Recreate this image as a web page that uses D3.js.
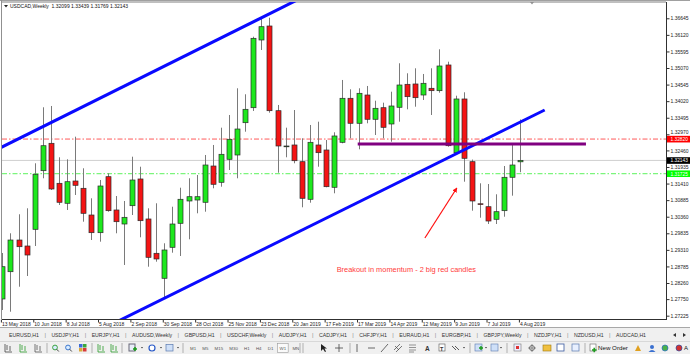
<!DOCTYPE html>
<html><head><meta charset="utf-8">
<script src="https://cdn.jsdelivr.net/npm/d3@7"></script>
<style>
html,body{margin:0;padding:0;background:#fff;overflow:hidden}
svg{display:block;font-family:"Liberation Sans",Arial,sans-serif}
</style></head><body>
<svg id="c" width="690" height="354"></svg>
<script>
// ---------------- DATA ----------------
const symbol = "USDCAD,Weekly";
const lastQuote = ["1.32099", "1.33439", "1.31769", "1.32143"];

// weekly candles, 13 May 2018 .. 4 Aug 2019 (65 bars)
const open = [1.27754,1.28618,1.29622,1.29432,1.29961,1.31818,1.32685,1.31418,1.30785,1.31491,
  1.31260,1.30414,1.29854,1.31628,1.30573,1.30129,1.30709,1.31555,1.30288,1.29201,
  1.28409,1.29391,1.30151,1.30858,1.30889,1.30817,1.31966,1.31450,1.32179,1.32315,
  1.33338,1.33813,1.35958,1.36401,1.33718,1.32578,1.32632,1.32103,1.30912,1.32632,
  1.32473,1.31292,1.32717,1.34111,1.33319,1.34215,1.33446,1.33813,1.33297,1.33826,
  1.34554,1.34564,1.34215,1.34428,1.34352,1.35166,1.32388,1.34089,1.32103,1.30770,
  1.30677,1.30278,1.30551,1.31609,1.32099];
const high = [1.29211,1.29835,1.30437,1.30627,1.32052,1.33826,1.33867,1.32242,1.32179,1.32895,
  1.31894,1.30943,1.31523,1.31735,1.31016,1.30858,1.32261,1.31944,1.30627,1.30785,
  1.29518,1.30677,1.31279,1.31577,1.31681,1.32315,1.32632,1.33180,1.33582,1.34428,
  1.34238,1.36062,1.36645,1.36664,1.33899,1.33180,1.33740,1.32844,1.33265,1.33370,
  1.32790,1.33034,1.34691,1.34396,1.34428,1.34501,1.34035,1.33972,1.34320,1.35220,
  1.34903,1.35061,1.34881,1.35061,1.35663,1.35270,1.34193,1.34301,1.32170,1.31418,
  1.31396,1.31070,1.31966,1.32632,1.33439];
const low = [1.27405,1.27351,1.28143,1.28482,1.29432,1.31577,1.31206,1.30731,1.30573,1.31048,
  1.30202,1.29622,1.29569,1.30519,1.29835,1.28831,1.30414,1.29708,1.28777,1.28935,
  1.27776,1.29220,1.29116,1.29645,1.30468,1.30519,1.31260,1.31311,1.31840,1.31577,
  1.33053,1.33709,1.35641,1.33655,1.31754,1.32242,1.32052,1.30658,1.30804,1.31944,
  1.31292,1.31102,1.32685,1.32844,1.32495,1.33319,1.32948,1.32844,1.32736,1.33370,
  1.33762,1.33845,1.34057,1.33582,1.34288,1.32578,1.32315,1.31469,1.30551,1.30329,
  1.30129,1.30129,1.30360,1.31026,1.31769];
const close = [1.28777,1.29622,1.29410,1.29147,1.31704,1.32609,1.31238,1.30817,1.31469,1.31355,
  1.30468,1.29854,1.31333,1.30551,1.30202,1.30341,1.31523,1.30234,1.29074,1.29021,
  1.29306,1.30129,1.30912,1.30994,1.30994,1.31998,1.31387,1.32337,1.32812,1.33138,
  1.33762,1.36011,1.36379,1.33718,1.32600,1.32600,1.32134,1.30943,1.32717,1.32388,
  1.31311,1.32917,1.34111,1.33319,1.34269,1.33446,1.33794,1.33192,1.33867,1.34532,
  1.34162,1.34130,1.34586,1.34352,1.35134,1.32609,1.34089,1.32210,1.30858,1.30755,
  1.30224,1.30519,1.31609,1.31998,1.32143];

const xTickIndex  = [0, 4, 8, 12, 16, 20, 24, 28, 32, 36, 40, 44, 48, 52, 56, 60, 64];
const xTickLabels = ["13 May 2018","10 Jun 2018","8 Jul 2018","5 Aug 2018","2 Sep 2018","30 Sep 2018",
  "28 Oct 2018","25 Nov 2018","23 Dec 2018","20 Jan 2019","17 Feb 2019","17 Mar 2019","14 Apr 2019",
  "12 May 2019","9 Jun 2019","7 Jul 2019","4 Aug 2019"];
const yTicks = [1.36645,1.36120,1.35595,1.35070,1.34545,1.34020,1.33495,1.32970,1.32460,1.31935,
  1.31410,1.30885,1.30360,1.29835,1.29310,1.28785,1.28260,1.27750,1.27225];

// drawn objects (bar index, price)
const upperChannel = [{i: 0, p: 1.32574}, {i: 35, p: 1.37044}];
const lowerChannel = [{i: 20, p: 1.27776}, {i: 67, p: 1.33740}];
const purpleLevel  = [{i: 43.9, p: 1.32663}, {i: 72.1, p: 1.32663}];
const arrowPts     = [{i: 52.2, p: 1.29686}, {i: 56.15, p: 1.31270}];
const redLevel = 1.32820, greenLevel = 1.31725, bidLevel = 1.32143;
const note = {i: 41.3, p: 1.28618, text: "Breakout in momentum - 2 big red candles"};

const tabs = ["EURUSD,H1","USDJPY,H1","EURJPY,H1","AUDUSD,Weekly","GBPUSD,H1","USDCHF,Weekly",
  "AUDJPY,H1","CADJPY,H1","CHFJPY,H1","EURAUD,H1","EURGBP,H1","GBPJPY,Weekly","NZDJPY,H1","NZDUSD,H1","AUDCAD,H1"];
const periods = ["M1","M5","M15","M30","H1","H4","D1","W1","MN"];
const activePeriod = "W1";

// ---------------- CHART ----------------
const W = 690, H = 354;
const plot = {l: 2, r: 666, t: 2, b: 319};
const svg = d3.select("#c");
const defs = svg.append("defs");
defs.append("clipPath").attr("id", "clip").append("rect")
  .attr("x", plot.l).attr("y", plot.t).attr("width", plot.r - plot.l).attr("height", plot.b - plot.t);
defs.append("marker").attr("id", "ah").attr("viewBox", "0 0 10 10").attr("refX", 9).attr("refY", 5)
  .attr("markerWidth", 4).attr("markerHeight", 4).attr("orient", "auto")
  .append("path").attr("d", "M0,0L10,5L0,10z").attr("fill", "#ff1010");

svg.append("rect").attr("width", W).attr("height", H).attr("fill", "#fff");

const x = d3.scaleLinear().domain([0, 64]).range([2.4, 520.4]);
const y = d3.scaleLinear().domain([1.27120, 1.37161]).range([plot.b, plot.t]);

const data = open.map((o, i) => ({i, o, h: high[i], l: low[i], c: close[i]}));

// frame
svg.append("line").attr("x1", 0).attr("x2", W).attr("y1", 0.5).attr("y2", 0.5).attr("stroke", "#a0a0a0");
svg.append("line").attr("x1", plot.l).attr("x2", plot.r).attr("y1", 2).attr("y2", 2).attr("stroke", "#808080");
svg.append("line").attr("x1", 1.5).attr("x2", 1.5).attr("y1", 0).attr("y2", plot.b).attr("stroke", "#909090");

const g = svg.append("g").attr("clip-path", "url(#clip)");

// horizontal levels
g.append("line").attr("x1", plot.l).attr("x2", plot.r).attr("y1", y(bidLevel)).attr("y2", y(bidLevel))
  .attr("stroke", "#cfcfcf").attr("stroke-width", 1);
g.append("line").attr("x1", plot.l).attr("x2", plot.r).attr("y1", y(redLevel)).attr("y2", y(redLevel))
  .attr("stroke", "#ff5a5a").attr("stroke-width", 1).attr("stroke-dasharray", "5,2,1.5,2");
g.append("line").attr("x1", plot.l).attr("x2", plot.r).attr("y1", y(greenLevel)).attr("y2", y(greenLevel))
  .attr("stroke", "#7cf57c").attr("stroke-width", 1.2).attr("stroke-dasharray", "5,2,1.5,2");

// candles
const cg = g.append("g");
cg.selectAll("line.wick").data(data).join("line").attr("class", "wick")
  .attr("x1", d => Math.round(x(d.i)) + 0.5).attr("x2", d => Math.round(x(d.i)) + 0.5)
  .attr("y1", d => y(d.h)).attr("y2", d => y(d.l))
  .attr("stroke", "#7a7a7a").attr("stroke-width", 1);
cg.selectAll("rect.body").data(data).join("rect").attr("class", "body")
  .attr("x", d => Math.round(x(d.i)) - 2)
  .attr("width", 5)
  .attr("y", d => y(Math.max(d.o, d.c)))
  .attr("height", d => Math.max(0.8, Math.abs(y(d.o) - y(d.c))))
  .attr("fill", d => d.c >= d.o ? "#1ee81e" : "#f41414")
  .attr("stroke", "#2a2a2a").attr("stroke-width", 0.7);

// trend lines
function extend(a, b, i0, i1) {
  const s = (b.p - a.p) / (b.i - a.i);
  return [{i: i0, p: a.p + s * (i0 - a.i)}, {i: i1, p: a.p + s * (i1 - a.i)}];
}
const ln = d3.line().x(d => x(d.i)).y(d => y(d.p));
g.append("path").attr("d", ln(extend(upperChannel[0], upperChannel[1], -3, 42)))
  .attr("stroke", "#0a0aff").attr("stroke-width", 3).attr("fill", "none");
g.append("path").attr("d", ln(extend(lowerChannel[0], lowerChannel[1], 8, 67)))
  .attr("stroke", "#0a0aff").attr("stroke-width", 3).attr("fill", "none");
g.append("path").attr("d", ln(purpleLevel))
  .attr("stroke", "#800080").attr("stroke-width", 2.8).attr("fill", "none");
g.append("path").attr("d", ln(arrowPts))
  .attr("stroke", "#ff1010").attr("stroke-width", 1.2).attr("fill", "none").attr("marker-end", "url(#ah)");

g.append("text").attr("x", x(note.i)).attr("y", y(note.p))
  .attr("font-size", 7.4).attr("fill", "#ff3a3a").text(note.text);

// axes lines
svg.append("line").attr("x1", plot.r + 0.5).attr("x2", plot.r + 0.5).attr("y1", 2).attr("y2", plot.b + 1)
  .attr("stroke", "#303030");
svg.append("line").attr("x1", plot.l).attr("x2", plot.r + 1).attr("y1", plot.b + 0.5).attr("y2", plot.b + 0.5)
  .attr("stroke", "#303030");

// right price axis
const ya = svg.append("g").attr("transform", `translate(${plot.r + 0.5},0)`)
  .call(d3.axisRight(y).tickValues(yTicks).tickSize(3).tickPadding(1).tickFormat(d3.format(".5f")));
ya.select(".domain").remove();
ya.selectAll("line").attr("stroke", "#303030");
ya.selectAll("text").attr("font-size", 5).attr("fill", "#222").attr("font-family", "Liberation Sans, Arial, sans-serif");
// the label hidden behind the red tag in the reference sits slightly higher
ya.selectAll(".tick").filter(d => d === 1.32970).select("text").attr("dy", "-0.1em");

// price labels
const tags = [
  {p: redLevel, bg: "#ff0000", fg: "#fff"},
  {p: bidLevel, bg: "#000000", fg: "#fff"},
  {p: greenLevel, bg: "#00ff00", fg: "#fff"}
];
const tg = svg.append("g").selectAll("g").data(tags).join("g")
  .attr("transform", d => `translate(${plot.r + 1},${y(d.p)})`);
tg.append("rect").attr("x", 0).attr("y", -3.2).attr("width", 23).attr("height", 6.6).attr("fill", d => d.bg);
tg.append("text").attr("x", 3.5).attr("y", 0.2).attr("dy", "0.35em").attr("font-size", 4.8)
  .attr("fill", d => d.fg).text(d => d3.format(".5f")(d.p));

// bottom time axis
const xa = svg.append("g").attr("transform", `translate(0,${plot.b + 0.5})`)
  .call(d3.axisBottom(x).tickValues(xTickIndex).tickSize(3).tickPadding(0)
    .tickFormat((d, k) => xTickLabels[k]));
xa.select(".domain").remove();
xa.selectAll("line").attr("stroke", "#303030").attr("transform", "translate(-1.5,0)");
xa.selectAll("text").attr("text-anchor", "start").attr("x", -1).attr("font-size", 5)
  .attr("fill", "#222").attr("font-family", "Liberation Sans, Arial, sans-serif");

// title
const tt = svg.append("g");
tt.append("path").attr("d", "M4,5 L8,5 L6,7.5 Z").attr("fill", "#222");
tt.append("text").attr("x", 10).attr("y", 8).attr("font-size", 5).attr("fill", "#111")
  .text(symbol + "  " + lastQuote.join(" ")).attr("xml:space", "preserve");
// shift marker
svg.append("path").attr("d", "M530,2 L534,2 L532,4.5 Z").attr("fill", "#909090");

// ---------------- TAB BAR ----------------
svg.append("rect").attr("x", 0).attr("y", 327).attr("width", W).attr("height", 27).attr("fill", "#f0f0f0");
svg.append("line").attr("x1", 0).attr("x2", W).attr("y1", 327.5).attr("y2", 327.5).attr("stroke", "#a8a8a8");
svg.append("line").attr("x1", 0).attr("x2", W).attr("y1", 341.5).attr("y2", 341.5).attr("stroke", "#d8d8d8");
let tx = 9;
const tabG = svg.append("g");
tabs.forEach((t, k) => {
  const el = tabG.append("text").attr("x", tx).attr("y", 337).attr("font-size", 5.2).attr("fill", "#333").text(t);
  const w = el.node().getComputedTextLength();
  if (k < tabs.length - 1) {
    tabG.append("text").attr("x", tx + w + 5.4).attr("y", 337).attr("font-size", 5.6).attr("fill", "#888").text("|");
  }
  tx += w + 12.4;
});
tabG.append("path").attr("d", "M676,333 L673,335 L676,337 Z").attr("fill", "#333");
tabG.append("path").attr("d", "M683,333 L686,335 L683,337 Z").attr("fill", "#333");

// ---------------- TOOLBAR ----------------
const tb = svg.append("g");
function sep(xx) { tb.append("line").attr("x1", xx).attr("x2", xx).attr("y1", 343).attr("y2", 353).attr("stroke", "#b0b0b0"); }
function barsIcon(xx, col) {
  tb.append("path").attr("d", `M${xx},344 L${xx},352 L${xx + 7},352 M${xx + 2},345 L${xx + 2},350 M${xx + 5},346 L${xx + 5},351`)
    .attr("stroke", col).attr("fill", "none").attr("stroke-width", 0.8);
}
barsIcon(5, "#444"); barsIcon(20, "#2a9a2a"); barsIcon(35, "#555");
sep(47);
[[55, "#2a9a2a"], [68, "#2a6ac8"]].forEach(([xx, c]) => {
  tb.append("circle").attr("cx", xx).attr("cy", 347.5).attr("r", 2.4).attr("fill", "#d8ecff").attr("stroke", c).attr("stroke-width", 0.9);
  tb.append("line").attr("x1", xx + 1.7).attr("y1", 349.2).attr("x2", xx + 3.8).attr("y2", 351.5).attr("stroke", "#444").attr("stroke-width", 1);
});
[["#3a6ad8", 79, 344], ["#3aa83a", 83, 344], ["#d8a83a", 79, 348], ["#d83a3a", 83, 348]].forEach(([c, xx, yy]) =>
  tb.append("rect").attr("x", xx).attr("y", yy).attr("width", 3.5).attr("height", 3.5).attr("fill", c));
sep(92);
barsIcon(98, "#2a9a2a"); barsIcon(111, "#2a9a2a");
sep(122);
tb.append("rect").attr("x", 129).attr("y", 344).attr("width", 6).attr("height", 7).attr("fill", "#e8eef8").attr("stroke", "#667");
tb.append("path").attr("d", "M133,349 h4 M135,347 v4").attr("stroke", "#1a9a1a").attr("stroke-width", 1.5);
tb.append("circle").attr("cx", 152).attr("cy", 348).attr("r", 3).attr("fill", "#fff").attr("stroke", "#2a5ac8").attr("stroke-width", 1.2);
tb.append("rect").attr("x", 166).attr("y", 344.5).attr("width", 7).attr("height", 6.5).attr("fill", "#cfe0f8").attr("stroke", "#5a7ab0").attr("stroke-width", 0.7);
[141, 160, 177].forEach(xx => tb.append("path").attr("d", `M${xx},347 L${xx + 2},347 L${xx + 1},348.5 Z`).attr("fill", "#333"));
sep(183);
const per = tb.append("g");
let px = 190;
periods.forEach(p => {
  const el = per.append("text").attr("x", px).attr("y", 349.5).attr("font-size", 4.4).attr("fill", "#555").text(p);
  const w = el.node().getComputedTextLength();
  if (p === activePeriod) {
    per.insert("rect", "text").attr("x", px - 2).attr("y", 343.5).attr("width", w + 4).attr("height", 9)
      .attr("fill", "#fafafa").attr("stroke", "#9a9a9a").attr("stroke-width", 0.6);
  }
  px += w + 6.2;
});
sep(300); sep(303);
tb.append("path").attr("d", "M321,344 L321,351 L323,349 L325,352 L326,351.5 L324.5,348.5 L327,348.5 Z").attr("fill", "#222");
tb.append("path").attr("d", "M339,344 V352 M335,348 H343").attr("stroke", "#444").attr("stroke-width", 0.8);
sep(350);
tb.append("path").attr("d", "M357,344 V352").attr("stroke", "#444").attr("stroke-width", 0.8);
tb.append("path").attr("d", "M368,348 H375").attr("stroke", "#444").attr("stroke-width", 0.8);
tb.append("path").attr("d", "M381,352 L388,344").attr("stroke", "#444").attr("stroke-width", 0.8);
tb.append("path").attr("d", "M394,350 L400,344 M396,352 L402,346 M395,346 L399,350").attr("stroke", "#444").attr("stroke-width", 0.7);
tb.append("path").attr("d", "M409,345 H416 M409,347.5 H416 M409,350 H416 M409,352 H414").attr("stroke", "#555").attr("stroke-width", 0.6);
tb.append("text").attr("x", 425).attr("y", 351).attr("font-size", 6.5).attr("font-weight", "bold").attr("fill", "#333").text("A");
tb.append("rect").attr("x", 439).attr("y", 344).attr("width", 6).attr("height", 7).attr("fill", "#fff").attr("stroke", "#555").attr("stroke-width", 0.6);
tb.append("text").attr("x", 440).attr("y", 350.5).attr("font-size", 5.5).attr("font-weight", "bold").attr("fill", "#333").text("T");
tb.append("path").attr("d", "M452,346 L456,350 M455,346 L459,350").attr("stroke", "#333").attr("stroke-width", 0.8);
tb.append("path").attr("d", "M463,347 L465,347 L464,348.5 Z").attr("fill", "#333");
sep(470);
tb.append("rect").attr("x", 475).attr("y", 344).attr("width", 7).attr("height", 7).attr("fill", "#cfe0f8").attr("stroke", "#5a7ab0").attr("stroke-width", 0.6);
tb.append("path").attr("d", "M479,348 h4 M481,346 v4").attr("stroke", "#1a9a1a").attr("stroke-width", 1.4);
tb.append("rect").attr("x", 491).attr("y", 344).attr("width", 7).attr("height", 7).attr("fill", "#cfe0f8").attr("stroke", "#5a7ab0").attr("stroke-width", 0.6);
[485, 500].forEach(xx => tb.append("path").attr("d", `M${xx},347 L${xx + 2},347 L${xx + 1},348.5 Z`).attr("fill", "#333"));
sep(507);
tb.append("rect").attr("x", 514).attr("y", 344).attr("width", 7).attr("height", 7).attr("fill", "#eef").attr("stroke", "#777").attr("stroke-width", 0.6);
tb.append("rect").attr("x", 516).attr("y", 346).attr("width", 3).attr("height", 3).attr("fill", "#d33");
tb.append("circle").attr("cx", 532).attr("cy", 348).attr("r", 2.5).attr("fill", "none").attr("stroke", "#555").attr("stroke-width", 0.8);
tb.append("path").attr("d", "M528,348 H536 M532,344 V352").attr("stroke", "#555").attr("stroke-width", 0.6);
tb.append("rect").attr("x", 543).attr("y", 345).attr("width", 8).attr("height", 6).attr("fill", "#f0c040").attr("stroke", "#a07a10").attr("stroke-width", 0.6);
tb.append("rect").attr("x", 557).attr("y", 344).attr("width", 7).attr("height", 7).attr("fill", "#fff").attr("stroke", "#3a5aa0").attr("stroke-width", 0.8);
tb.append("rect").attr("x", 572).attr("y", 344).attr("width", 7).attr("height", 7).attr("fill", "#e8f0ff").attr("stroke", "#5a7ab0").attr("stroke-width", 0.7);
sep(585);
tb.append("rect").attr("x", 590).attr("y", 344).attr("width", 6).attr("height", 7).attr("fill", "#fff").attr("stroke", "#666").attr("stroke-width", 0.6);
tb.append("path").attr("d", "M592,350 h4.5 M594.2,347.8 v4.5").attr("stroke", "#1a9a1a").attr("stroke-width", 1.5);
tb.append("text").attr("x", 598).attr("y", 350).attr("font-size", 6.2).attr("fill", "#111").text("New Order");
tb.append("path").attr("d", "M635,351 L638,345 L641,351 Z").attr("fill", "#e0a020");
tb.append("circle").attr("cx", 652).attr("cy", 347).attr("r", 2).attr("fill", "#3a70d0");
tb.append("path").attr("d", "M648.5,352 Q652,348 655.5,352 Z").attr("fill", "#3a70d0");
tb.append("circle").attr("cx", 665).attr("cy", 348).attr("r", 3).attr("fill", "#4ab04a").attr("stroke", "#2a6ac8").attr("stroke-width", 0.7);
tb.append("circle").attr("cx", 679).attr("cy", 348).attr("r", 3).attr("fill", "#d03030").attr("stroke", "#2a4aa0").attr("stroke-width", 0.7);
tb.append("text").attr("x", 684).attr("y", 350).attr("font-size", 6).attr("fill", "#111").text("A");
</script>
</body></html>
